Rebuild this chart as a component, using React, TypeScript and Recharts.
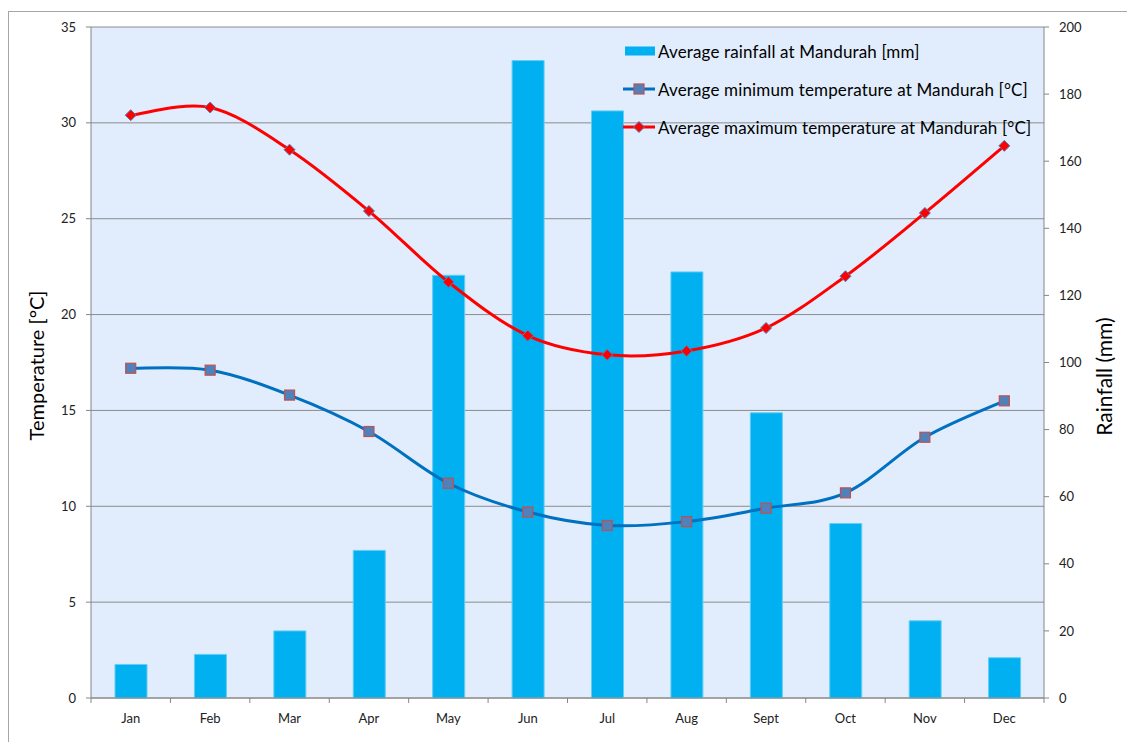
import React from 'react';
import { ComposedChart, Bar, Line, XAxis, YAxis, CartesianGrid } from 'recharts';

const months = ['Jan', 'Feb', 'Mar', 'Apr', 'May', 'Jun', 'Jul', 'Aug', 'Sept', 'Oct', 'Nov', 'Dec'];
const rainfall = [10, 13, 20, 44, 126, 190, 175, 127, 85, 52, 23, 12];
const minTemp = [17.2, 17.1, 15.8, 13.9, 11.2, 9.7, 9.0, 9.2, 9.9, 10.7, 13.6, 15.5];
const maxTemp = [30.4, 30.8, 28.6, 25.4, 21.7, 18.9, 17.9, 18.1, 19.3, 22.0, 25.3, 28.8];
const tempTicks = [0, 5, 10, 15, 20, 25, 30, 35];
const rainTicks = [0, 20, 40, 60, 80, 100, 120, 140, 160, 180, 200];

const data = months.map((m, i) => ({ month: m, rain: rainfall[i], min: minTemp[i], max: maxTemp[i] }));

const FONT = 'Lato, "Open Sans", sans-serif';
const W = 1127;
const H = 742;
const PLOT_LEFT = 91;
const PLOT_RIGHT = 1044;
const BAND = (PLOT_RIGHT - PLOT_LEFT) / months.length;

// Excel-like smoothed line (Catmull-Rom through the points)
const smoothCurve = (context: any) => {
    let pts: number[][] = [];
    return {
        areaStart() {},
        areaEnd() {},
        lineStart() { pts = []; },
        point(x: number, y: number) { pts.push([+x, +y]); },
        lineEnd() {
            if (!pts.length) return;
            context.moveTo(pts[0][0], pts[0][1]);
            for (let i = 0; i < pts.length - 1; i++) {
                const p0 = pts[i - 1] || pts[i];
                const p1 = pts[i];
                const p2 = pts[i + 1];
                const p3 = pts[i + 2] || pts[i + 1];
                context.bezierCurveTo(
                    p1[0] + (p2[0] - p0[0]) / 6, p1[1] + (p2[1] - p0[1]) / 6,
                    p2[0] - (p3[0] - p1[0]) / 6, p2[1] - (p3[1] - p1[1]) / 6,
                    p2[0], p2[1]
                );
            }
        },
    };
};

const SquareDot = (props: any) => {
    const { cx, cy, index } = props;
    if (cx == null || cy == null) return null;
    return <rect key={`sq-${index}`} x={cx - 5} y={cy - 5} width={10} height={10} fill="#4F81BD" stroke="#C0504D" strokeWidth={1.2} />;
};

const DiamondDot = (props: any) => {
    const { cx, cy, index } = props;
    if (cx == null || cy == null) return null;
    return (
        <path key={`dm-${index}`} d={`M${cx},${cy - 5.5}L${cx + 5.5},${cy}L${cx},${cy + 5.5}L${cx - 5.5},${cy}Z`}
            fill="#FF0000" stroke="#4F81BD" strokeWidth={1} />
    );
};

const MonthTick = (props: any) => {
    const { x, y, payload, index } = props;
    return (
        <g>
            <line x1={x - BAND / 2} x2={x - BAND / 2} y1={y - 8} y2={y - 3} stroke="#868686" />
            {index === months.length - 1 && (
                <line x1={x + BAND / 2} x2={x + BAND / 2} y1={y - 8} y2={y - 3} stroke="#868686" />
            )}
            <text x={x} y={y + 17} textAnchor="middle" fontSize={13} fill="#222" fontFamily={FONT}>
                {payload.value}
            </text>
        </g>
    );
};

const legendRow: React.CSSProperties = { display: 'flex', alignItems: 'center', height: 38 };

export default function App() {
    return (
        <div style={{ position: 'absolute', left: 0, top: 0, width: W, height: H, background: '#fff', fontFamily: FONT }}>
            <div style={{ position: 'absolute', left: 8, top: 11, width: W, height: H, border: '1px solid #a6a6a6' }} />
            <ComposedChart width={W} height={H} data={data} margin={{ top: 27, right: 0, bottom: 0, left: 0 }} style={{ position: 'absolute', left: 0, top: 0 }}>
                <CartesianGrid yAxisId="temp" vertical={false} stroke="#8c8c8c" fill="#E1EDFC" fillOpacity={1} />
                <XAxis dataKey="month" height={44} axisLine={{ stroke: '#868686' }} tickLine={false} tick={<MonthTick />} interval={0} />
                <YAxis yAxisId="temp" orientation="left" width={PLOT_LEFT} domain={[0, 35]} ticks={tempTicks} interval={0}
                    axisLine={{ stroke: '#868686' }} tickLine={{ stroke: '#868686' }} tickSize={5} tickMargin={10}
                    tick={{ fontSize: 13, fill: '#222', fontFamily: FONT }}
                    label={{ value: 'Temperature [°C]', angle: -90, position: 'insideLeft', dx: 32, dy: 3, fontSize: 20, fill: '#000', fontFamily: FONT, style: { textAnchor: 'middle' } }} />
                <YAxis yAxisId="rain" orientation="right" width={W - PLOT_RIGHT} domain={[0, 200]} ticks={rainTicks} interval={0}
                    axisLine={{ stroke: '#868686' }} tickLine={{ stroke: '#868686' }} tickSize={5} tickMargin={10}
                    tick={{ fontSize: 13, fill: '#222', fontFamily: FONT }}
                    label={{ value: 'Rainfall (mm)', angle: -90, position: 'insideRight', dx: -17, dy: 14, fontSize: 21, fill: '#000', fontFamily: FONT, style: { textAnchor: 'middle' } }} />
                <Bar yAxisId="rain" dataKey="rain" fill="#00B0F0" stroke="#63CDF5" strokeWidth={1} barSize={32} isAnimationActive={false} />
                <Line yAxisId="temp" dataKey="min" type={smoothCurve as any} stroke="#0070C0" strokeWidth={3} dot={<SquareDot />} activeDot={false} isAnimationActive={false} />
                <Line yAxisId="temp" dataKey="max" type={smoothCurve as any} stroke="#FF0000" strokeWidth={3} dot={<DiamondDot />} activeDot={false} isAnimationActive={false} />
            </ComposedChart>
            <div style={{ position: 'absolute', left: 623, top: 32, fontSize: 17, letterSpacing: 0.15, color: '#000', lineHeight: 1 }}>
                <div style={legendRow}>
                    <svg width={35} height={12} style={{ marginRight: 0 }}>
                        <rect x={2} y={1.5} width={30} height={9} fill="#00B0F0" />
                    </svg>
                    <span>Average rainfall at Mandurah [mm]</span>
                </div>
                <div style={legendRow}>
                    <svg width={35} height={14}>
                        <line x1={0} x2={32} y1={7} y2={7} stroke="#0070C0" strokeWidth={3} />
                        <rect x={11} y={2} width={10} height={10} fill="#4F81BD" stroke="#C0504D" strokeWidth={1.2} />
                    </svg>
                    <span>Average minimum temperature at Mandurah [°C]</span>
                </div>
                <div style={legendRow}>
                    <svg width={35} height={14}>
                        <line x1={0} x2={32} y1={7} y2={7} stroke="#FF0000" strokeWidth={3} />
                        <path d="M16,1.5L21.5,7L16,12.5L10.5,7Z" fill="#FF0000" stroke="#4F81BD" strokeWidth={1} />
                    </svg>
                    <span>Average maximum temperature at Mandurah [°C]</span>
                </div>
            </div>
        </div>
    );
}
